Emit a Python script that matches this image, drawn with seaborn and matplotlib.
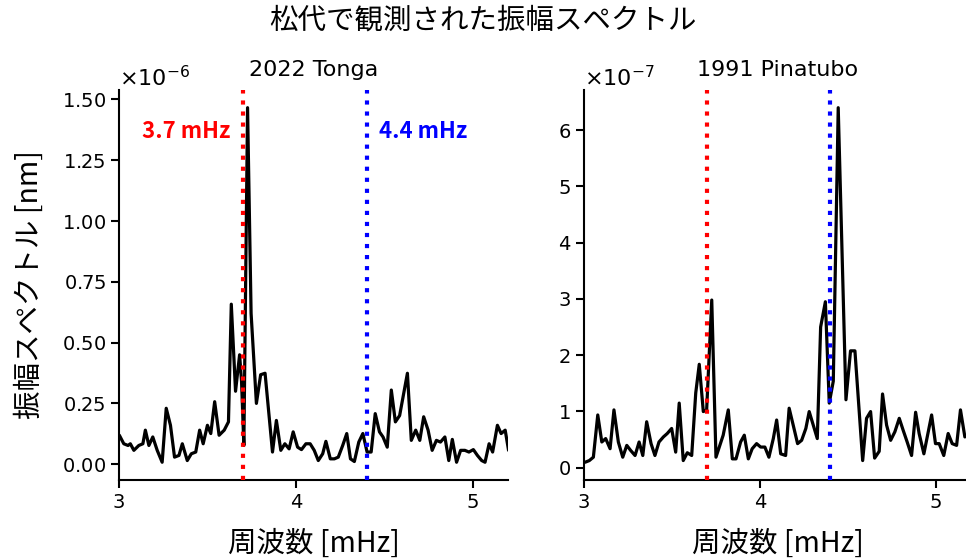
import numpy as np
import pandas as pd
import seaborn as sns
import matplotlib.pyplot as plt
from matplotlib.ticker import ScalarFormatter

# ---------------------------------------------
# Data (freq in mHz, amplitude in nm)
# ---------------------------------------------
tonga_freq = [3.002, 3.027, 3.051, 3.064, 3.084, 3.112, 3.135, 3.149, 3.169, 3.191,
              3.216, 3.244, 3.267, 3.291, 3.314, 3.339, 3.358, 3.386, 3.409, 3.434,
              3.456, 3.476, 3.500, 3.519, 3.541, 3.566, 3.595, 3.619, 3.635, 3.659,
              3.682, 3.693, 3.706, 3.727, 3.747, 3.777, 3.801, 3.826, 3.868, 3.890,
              3.915, 3.938, 3.962, 3.985, 4.010, 4.032, 4.057, 4.081, 4.104, 4.127,
              4.152, 4.170, 4.195, 4.218, 4.240, 4.265, 4.288, 4.309, 4.331, 4.356,
              4.379, 4.403, 4.426, 4.449, 4.473, 4.493, 4.517, 4.540, 4.563, 4.587,
              4.631, 4.653, 4.678, 4.701, 4.723, 4.748, 4.771, 4.795, 4.818, 4.843,
              4.865, 4.885, 4.909, 4.932, 4.956, 4.979, 5.004, 5.027, 5.051, 5.070,
              5.093, 5.113, 5.140, 5.161, 5.184, 5.203]
tonga_amp = [0.119, 0.084, 0.077, 0.084, 0.057, 0.077, 0.084, 0.140, 0.077, 0.112,
             0.057, 0.008, 0.230, 0.160, 0.029, 0.036, 0.084, 0.015, 0.043, 0.050,
             0.140, 0.084, 0.160, 0.126, 0.257, 0.119, 0.140, 0.174, 0.658, 0.300,
             0.450, 0.340, 0.077, 1.466, 0.620, 0.250, 0.368, 0.374, 0.050, 0.180,
             0.057, 0.084, 0.063, 0.133, 0.070, 0.060, 0.084, 0.084, 0.057, 0.015,
             0.043, 0.094, 0.022, 0.022, 0.029, 0.077, 0.126, 0.022, 0.011, 0.091,
             0.126, 0.050, 0.050, 0.208, 0.133, 0.112, 0.070, 0.305, 0.174, 0.200,
             0.374, 0.098, 0.140, 0.098, 0.195, 0.140, 0.057, 0.098, 0.091, 0.112,
             0.015, 0.102, 0.008, 0.057, 0.057, 0.050, 0.060, 0.036, 0.015, 0.008,
             0.084, 0.050, 0.160, 0.126, 0.140, 0.057]

pinatubo_freq = [3.006, 3.030, 3.053, 3.078, 3.101, 3.123, 3.148, 3.170, 3.195, 3.220,
                 3.243, 3.265, 3.290, 3.313, 3.334, 3.356, 3.381, 3.403, 3.426, 3.451,
                 3.473, 3.498, 3.521, 3.541, 3.564, 3.587, 3.612, 3.635, 3.655, 3.678,
                 3.697, 3.726, 3.750, 3.791, 3.820, 3.843, 3.864, 3.890, 3.911, 3.934,
                 3.956, 3.981, 4.004, 4.028, 4.051, 4.076, 4.095, 4.118, 4.146, 4.166,
                 4.189, 4.214, 4.237, 4.261, 4.280, 4.303, 4.326, 4.345, 4.372, 4.394,
                 4.417, 4.445, 4.489, 4.515, 4.540, 4.584, 4.606, 4.629, 4.652, 4.678,
                 4.697, 4.720, 4.743, 4.767, 4.792, 4.814, 4.837, 4.862, 4.885, 4.905,
                 4.932, 4.953, 4.976, 4.998, 5.019, 5.045, 5.070, 5.093, 5.118, 5.140,
                 5.165]
pinatubo_amp = [0.096, 0.126, 0.186, 0.937, 0.456, 0.517, 0.337, 1.027, 0.456, 0.186,
                0.396, 0.306, 0.216, 0.456, 0.216, 0.816, 0.427, 0.216, 0.456, 0.546,
                0.607, 0.697, 0.276, 1.148, 0.126, 0.265, 0.216, 1.328, 1.838, 0.997,
                1.027, 2.980, 0.186, 0.577, 1.027, 0.156, 0.156, 0.456, 0.577, 0.156,
                0.337, 0.427, 0.366, 0.366, 0.186, 0.517, 0.847, 0.246, 0.216, 1.057,
                0.757, 0.427, 0.486, 0.697, 0.997, 0.757, 0.517, 2.500, 2.950, 1.148,
                1.538, 6.400, 1.207, 2.077, 2.077, 0.126, 0.877, 0.997, 0.170, 0.290,
                1.310, 0.757, 0.486, 0.637, 0.877, 0.667, 0.456, 0.216, 0.985, 0.607,
                0.246, 0.577, 0.937, 0.427, 0.427, 0.216, 0.607, 0.427, 0.396, 1.027,
                0.546]

events = ['2022 Tonga', '1991 Pinatubo']
mode_freqs = [3.7, 4.4]
mode_labels = ['3.7 mHz', '4.4 mHz']
mode_colors = ['red', 'blue']

df_tonga = pd.DataFrame({'freq': tonga_freq, 'amp': np.array(tonga_amp) * 1e-6})
df_pina = pd.DataFrame({'freq': pinatubo_freq, 'amp': np.array(pinatubo_amp) * 1e-7})

# ---------------------------------------------
# Style
# ---------------------------------------------
sns.set_style('ticks', {'text.color': 'black', 'axes.labelcolor': 'black',
                        'xtick.color': 'black', 'ytick.color': 'black',
                        'axes.edgecolor': 'black'})
plt.rcParams['font.family'] = ['DejaVu Sans', 'Noto Sans CJK JP']
plt.rcParams['axes.unicode_minus'] = True
cjk = ['Noto Sans CJK JP', 'DejaVu Sans']

fig = plt.figure(figsize=(9.66, 5.6), dpi=100)
ax1 = fig.add_axes([0.1232, 0.1429, 0.4027, 0.6964])
ax2 = fig.add_axes([0.6046, 0.1429, 0.4006, 0.6964])

for ax, df, title in zip([ax1, ax2], [df_tonga, df_pina], events):
    sns.lineplot(x='freq', y='amp', data=df, ax=ax, color='black', linewidth=2.3)
    for f, c in zip(mode_freqs, mode_colors):
        ax.axvline(f, color=c, linestyle=':', linewidth=3, zorder=5)
    ax.set_xlim(3, 5.2)
    ax.set_xticks([3, 4, 5])
    ax.set_title(title, fontsize=16, pad=10)
    ax.set_xlabel('周波数 [mHz]', fontsize=20.5, family=cjk)
    ax.xaxis.set_label_coords(0.5, -0.125)
    ax.set_ylabel('')
    fmt = ScalarFormatter(useMathText=True)
    fmt.set_powerlimits((0, 0))
    ax.yaxis.set_major_formatter(fmt)
    ax.tick_params(labelsize=14, width=1.5, length=6)
    ax.yaxis.get_offset_text().set_fontsize(16)
    for s in ['left', 'bottom']:
        ax.spines[s].set_linewidth(1.5)
    sns.despine(ax=ax)

ax1.set_ylabel('振幅スペクトル [nm]', fontsize=20.5, family=cjk)
ax1.yaxis.set_label_coords(-0.19, 0.5)
ax1.set_yticks([0, 0.25e-6, 0.5e-6, 0.75e-6, 1.0e-6, 1.25e-6, 1.5e-6])

# mode labels on the Tonga panel
ax1.text(mode_freqs[0] - 0.068, 1.37e-6, mode_labels[0], color='red', fontsize=16,
         fontweight='bold', ha='right', va='center', family=cjk)
ax1.text(mode_freqs[1] + 0.068, 1.37e-6, mode_labels[1], color='blue', fontsize=16,
         fontweight='bold', ha='left', va='center', family=cjk)

fig.suptitle('松代で観測された振幅スペクトル', fontsize=20.5, y=0.99, family=cjk)

plt.savefig('out.png', dpi=100)
